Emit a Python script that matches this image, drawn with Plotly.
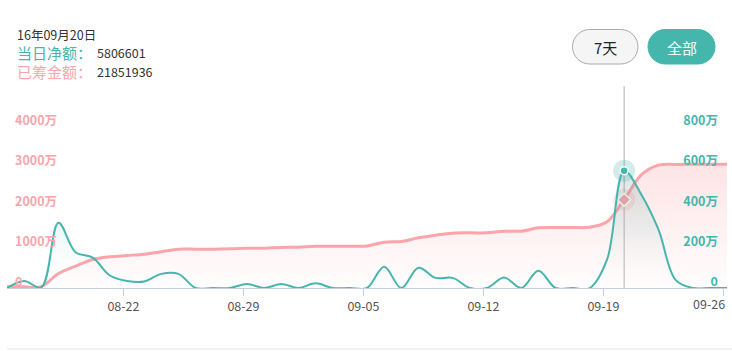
import plotly.graph_objects as go
import pandas as pd

# ---------------- data ----------------
dates = pd.date_range("2016-08-15 05:00", "2016-09-26 05:00", freq="D")

# 当日净额 (unit: 万)
daily_net = [0, 35, 3, 323, 177, 150, 62, 35, 32, 70,
             70, 0, 0, 0, 20, 0, 20, 0, 23, 0,
             0, 0, 105, 0, 100, 50, 50, 0, 0, 52,
             0, 85, 0, 0, 0, 140, 580.6601, 463, 290, 40,
             0, 0, 0]

# 已筹金额 (unit: 万)
raised = [28, 30, 35, 359, 540, 705, 772, 804, 837, 896,
          961, 961, 961, 970, 986, 986, 1002, 1011, 1035, 1035,
          1035, 1040, 1134, 1151, 1242, 1307, 1357, 1365, 1365, 1406,
          1406, 1489, 1497, 1497, 1505, 1640, 2185.1936, 2800, 3040, 3060,
          3065, 3065, 3065]

x_tick_vals = ["2016-08-22", "2016-08-29", "2016-09-05", "2016-09-12", "2016-09-19", "2016-09-26"]
x_tick_text = ["08-22", "08-29", "09-05", "09-12", "09-19", "09-26"]

left_tick_vals = [0, 1000, 2000, 3000, 4000]
left_tick_text = ["0", "1000万", "2000万", "3000万", "4000万"]
right_tick_vals = [0, 200, 400, 600, 800]
right_tick_text = ["0", "200万", "400万", "600万", "800万"]

sel = 36  # highlighted day (09-20)
header_date = "16年09月20日"
header_net = "5806601"
header_raised = "21851936"

# ---------------- styling ----------------
TEAL = "#46b6ac"
PINK = "#f9a5ab"
FONT = "Noto Sans CJK SC"

W, H = 732, 351
ML, MR, MT, MB = 7, 5, 86, 63
PW, PH = W - ML - MR, H - MT - MB


def px(x):
    return (x - ML) / PW


def py(y):
    return (H - MB - y) / PH


def pill(x0, y0, x1, y1):
    r = (y1 - y0) / 2
    k = 0.5523 * r
    pts = [
        ("M", [(x0 + r, y0)]),
        ("L", [(x1 - r, y0)]),
        ("C", [(x1 - r + k, y0), (x1, y0 + r - k), (x1, y0 + r)]),
        ("C", [(x1, y0 + r + k), (x1 - r + k, y1), (x1 - r, y1)]),
        ("L", [(x0 + r, y1)]),
        ("C", [(x0 + r - k, y1), (x0, y1 - r + k), (x0, y1 - r)]),
        ("C", [(x0, y0 + r - k), (x0 + r - k, y0), (x0 + r, y0)]),
    ]
    s = ""
    for cmd, ps in pts:
        s += cmd + " " + " ".join(f"{px(a):.5f},{py(b):.5f}" for a, b in ps) + " "
    return s + "Z"


fig = go.Figure()

# daily net (right axis)
fig.add_trace(go.Scatter(
    x=dates, y=daily_net, yaxis="y2", mode="lines",
    line=dict(color=TEAL, width=2, shape="spline", smoothing=1),
    fill="tozeroy",
    fillgradient=dict(type="vertical",
                      colorscale=[[0, "rgba(255,255,255,0)"],
                                  [0.5, "rgba(70,182,172,0.10)"],
                                  [1, "rgba(60,110,105,0.18)"]]),
    hoverinfo="skip",
))

# raised total (left axis)
fig.add_trace(go.Scatter(
    x=dates, y=raised, yaxis="y", mode="lines",
    line=dict(color=PINK, width=3, shape="spline", smoothing=1),
    fill="tozeroy",
    fillgradient=dict(type="vertical",
                      colorscale=[[0, "rgba(249,165,170,0.02)"],
                                  [1, "rgba(249,165,170,0.30)"]]),
    hoverinfo="skip",
))

# highlight markers
fig.add_trace(go.Scatter(
    x=[dates[sel]], y=[raised[sel]], yaxis="y", mode="markers",
    marker=dict(symbol="circle", size=22, color="rgba(249,165,170,0.25)"),
    hoverinfo="skip"))
fig.add_trace(go.Scatter(
    x=[dates[sel]], y=[raised[sel]], yaxis="y", mode="markers",
    marker=dict(symbol="diamond", size=10, color=PINK, line=dict(color="white", width=1.5)),
    hoverinfo="skip"))
fig.add_trace(go.Scatter(
    x=[dates[sel]], y=[daily_net[sel]], yaxis="y2", mode="markers",
    marker=dict(symbol="circle", size=22, color="rgba(70,182,172,0.25)"),
    hoverinfo="skip"))
fig.add_trace(go.Scatter(
    x=[dates[sel]], y=[daily_net[sel]], yaxis="y2", mode="markers",
    marker=dict(symbol="circle", size=8, color=TEAL, line=dict(color="white", width=1.5)),
    hoverinfo="skip"))

shapes = [
    # crosshair
    dict(type="line", xref="x", yref="paper", x0=dates[sel], x1=dates[sel], y0=0, y1=1,
         line=dict(color="#b0b0b0", width=1), layer="below"),
    # bottom separator
    dict(type="line", xref="paper", yref="paper", x0=px(7), x1=px(732), y0=py(349), y1=py(349),
         line=dict(color="#eeeeee", width=1.5)),
    # buttons
    dict(type="path", xref="paper", yref="paper", path=pill(572.5, 29.5, 638, 64),
         fillcolor="#f5f5f5", line=dict(color="#aaaaaa", width=1)),
    dict(type="path", xref="paper", yref="paper", path=pill(648, 29.5, 715, 64),
         fillcolor="#45b6ab", line=dict(color="#45b6ab", width=1)),
]

ann = [
    dict(text=header_date, x=px(15), y=py(34), font=dict(size=12.5, color="#333333")),
    dict(text="当日净额：", x=px(15), y=py(52), font=dict(size=15, color=TEAL)),
    dict(text=header_net, x=px(95), y=py(52), font=dict(size=12.5, color="#333333")),
    dict(text="已筹金额：", x=px(15), y=py(72), font=dict(size=15, color=PINK)),
    dict(text=header_raised, x=px(95), y=py(72), font=dict(size=12.5, color="#333333")),
]
annotations = []
for a in ann:
    a.update(xref="paper", yref="paper", xanchor="left", yanchor="middle", showarrow=False)
    a["font"]["family"] = FONT
    annotations.append(a)
annotations.append(dict(text="7天", x=px(605.2), y=py(47), xref="paper", yref="paper",
                        showarrow=False, xanchor="center", yanchor="middle",
                        font=dict(family=FONT, size=15, color="#222222")))
annotations.append(dict(text="全部", x=px(681.5), y=py(47), xref="paper", yref="paper",
                        showarrow=False, xanchor="center", yanchor="middle",
                        font=dict(family=FONT, size=15, color="#ffffff")))
# last x tick label is kept inside the chart (right aligned to plot edge)
annotations.append(dict(text=x_tick_text[-1], x=1, y=py(303.5), xref="paper", yref="paper",
                        showarrow=False, xanchor="right", yanchor="middle",
                        font=dict(family=FONT, size=12.5, color="#555555")))

fig.update_layout(
    width=W, height=H,
    margin=dict(l=ML, r=MR, t=MT, b=MB, pad=0),
    paper_bgcolor="white", plot_bgcolor="white",
    showlegend=False, hovermode=False,
    font=dict(family=FONT),
    xaxis=dict(type="date", range=[dates[0], dates[-1]],
               tickvals=x_tick_vals, ticktext=x_tick_text[:-1] + [""],
               showgrid=False, zeroline=False,
               showline=True, linecolor="#c6ced6", linewidth=1,
               ticks="outside", ticklen=7, tickcolor="#c6ced6",
               tickfont=dict(family=FONT, size=12.5, color="#555555")),
    yaxis=dict(range=[0, 5000], tickvals=left_tick_vals, ticktext=left_tick_text,
               ticklabelposition="inside", ticklabelshift=-6, ticklabelstandoff=5,
               ticklabeloverflow="allow",
               showgrid=False, zeroline=False, showline=False, ticks="",
               tickfont=dict(family=FONT, size=12.5, color=PINK, weight="bold")),
    yaxis2=dict(range=[0, 1000], tickvals=right_tick_vals, ticktext=right_tick_text,
                overlaying="y", side="right",
                ticklabelposition="inside", ticklabelshift=-6, ticklabelstandoff=6,
                ticklabeloverflow="allow",
                showgrid=False, zeroline=False, showline=False, ticks="",
                tickfont=dict(family=FONT, size=12.5, color=TEAL, weight="bold")),
    shapes=shapes,
    annotations=annotations,
)

fig.write_html("out.html", config={"displayModeBar": False})
